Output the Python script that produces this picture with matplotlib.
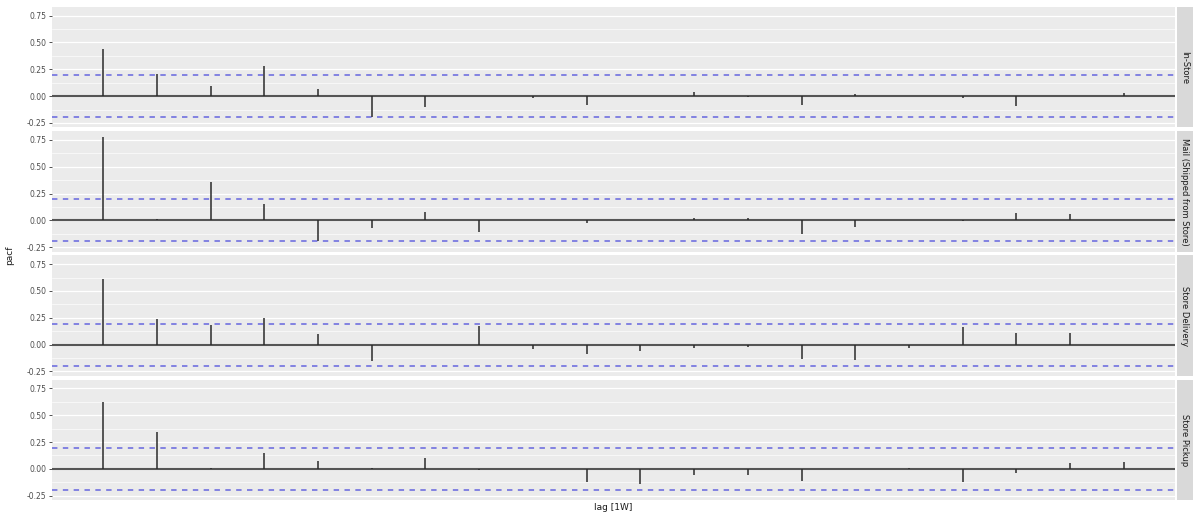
import matplotlib
matplotlib.use("Agg")
import matplotlib.pyplot as plt
import numpy as np

lags = list(range(1, 21))
facets = ["In-Store", "Mail (Shipped from Store)", "Store Delivery", "Store Pickup"]
pacf_in_store = [0.44, 0.21, 0.09, 0.28, 0.07, -0.19, -0.10, 0.00, -0.02, -0.08,
                 0.005, 0.04, -0.01, -0.08, 0.02, 0.00, -0.02, -0.09, 0.00, 0.03]
pacf_mail = [0.78, 0.01, 0.36, 0.15, -0.195, -0.07, 0.08, -0.11, 0.00, -0.02,
             0.00, 0.02, 0.02, -0.13, -0.065, 0.00, -0.01, 0.07, 0.055, 0.00]
pacf_delivery = [0.61, 0.24, 0.18, 0.25, 0.095, -0.15, 0.00, 0.175, -0.04, -0.085,
                 -0.055, -0.03, -0.025, -0.13, -0.14, -0.03, 0.165, 0.11, 0.11, 0.00]
pacf_pickup = [0.625, 0.34, 0.01, 0.15, 0.07, 0.005, 0.10, -0.01, 0.00, -0.12,
               -0.14, -0.06, -0.055, -0.11, 0.00, 0.01, -0.125, -0.04, 0.05, 0.06]
series = [pacf_in_store, pacf_mail, pacf_delivery, pacf_pickup]
ci = 0.196
yticks = [-0.25, 0.0, 0.25, 0.5, 0.75]
ytick_labels = ["-0.25", "0.00", "0.25", "0.50", "0.75"]

W, H = 1193, 517
fig = plt.figure(figsize=(W / 100, H / 100), dpi=100)
left, right = 52 / W, 1175 / W
top_px, bot_px = 7, 500
gap = 4
ph = (bot_px - top_px - 3 * gap) / 4
strip_w = 16 / W

for i, (name, vals) in enumerate(zip(facets, series)):
    y0 = top_px + i * (ph + gap)
    ax = fig.add_axes([left, 1 - (y0 + ph) / H, right - left, ph / H])
    ax.set_facecolor("#EBEBEB")
    ax.set_xlim(0.05, 20.95)
    ax.set_ylim(-0.29, 0.83)
    ax.set_yticks(yticks)
    ax.set_yticklabels(ytick_labels)
    ax.set_yticks([-0.125, 0.125, 0.375, 0.625], minor=True)
    ax.grid(True, which="major", axis="y", color="white", lw=0.9)
    ax.grid(True, which="minor", axis="y", color="white", lw=0.45)
    ax.set_axisbelow(True)
    ax.set_xticks([])
    for s in ax.spines.values():
        s.set_visible(False)
    ax.tick_params(axis="y", which="major", length=2.5, width=0.6, color="#333333",
                   labelsize=5.5, labelcolor="#4D4D4D", pad=1.5)
    ax.tick_params(axis="y", which="minor", length=0)
    ax.axhline(0, color="#555555", lw=1.5, zorder=2)
    ax.vlines(lags, 0, vals, color="#2b2b2b", lw=1.1, zorder=3)
    ax.axhline(ci, color="#7a7ae0", lw=1.3, ls=(0, (3, 3)), zorder=2)
    ax.axhline(-ci, color="#7a7ae0", lw=1.3, ls=(0, (3, 3)), zorder=2)

    sax = fig.add_axes([right + 2 / W, 1 - (y0 + ph) / H, strip_w, ph / H])
    sax.set_facecolor("#D9D9D9")
    sax.set_xticks([]); sax.set_yticks([])
    for s in sax.spines.values():
        s.set_visible(False)
    t = sax.text(0.5, 0.5, name, rotation=-90, ha="center", va="center",
                 fontsize=6, color="#1A1A1A", transform=sax.transAxes)
    t.set_clip_on(True)

fig.text(10 / W, 1 - 255 / H, "pacf", rotation=90, ha="center", va="center",
         fontsize=6.5, color="#1A1A1A")
fig.text((left + right) / 2, 1 - 508 / H, "lag [1W]", ha="center", va="center",
         fontsize=6.5, color="#1A1A1A")

fig.savefig("out.png", dpi=100)
